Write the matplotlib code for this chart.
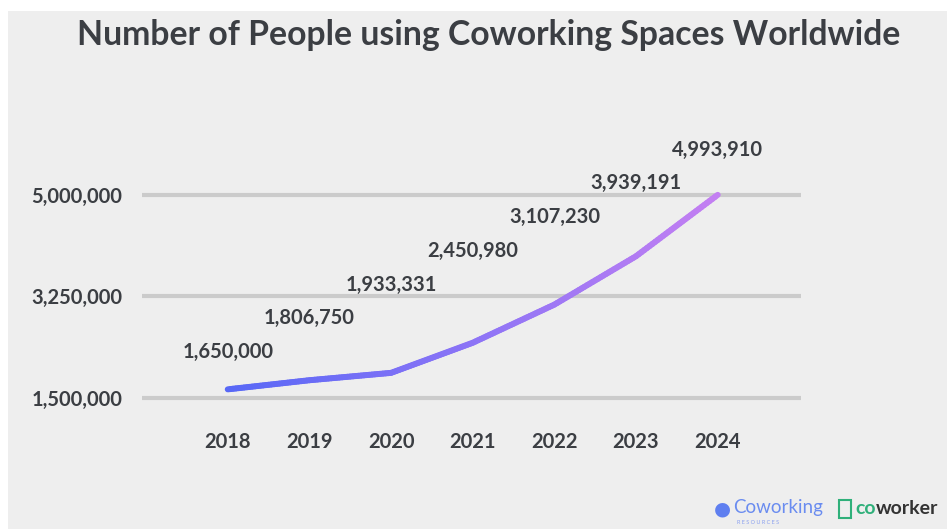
import numpy as np
import matplotlib.pyplot as plt
from matplotlib.collections import LineCollection
from matplotlib.colors import LinearSegmentedColormap
from matplotlib.patches import Rectangle
import matplotlib.transforms as mtransforms

plt.rcParams['font.family'] = ['Lato', 'DejaVu Sans']

years = [2018, 2019, 2020, 2021, 2022, 2023, 2024]
people = [1650000, 1806750, 1933331, 2450980, 3107230, 3939191, 4993910]
y_ticks = [1500000, 3250000, 5000000]
title = 'Number of People using Coworking Spaces Worldwide'

bg = '#eeeeee'
text_col = '#3b3e43'

fig = plt.figure(figsize=(9.47, 5.29), dpi=100, facecolor='white')
# grey card with a thin white border on top and left
fig.patches.append(Rectangle((8 / 947, 0), 1, 1 - 11 / 529, transform=fig.transFigure,
                             facecolor=bg, edgecolor='none', zorder=-5))

ax = fig.add_axes([142 / 947, 1 - 420 / 529, 659 / 947, 300 / 529])
ax.set_facecolor('none')
ax.set_xlim(2016.95, 2025.02)
ax.set_ylim(1123000, 6281000)

for t in y_ticks:
    ax.axhline(t, color='#cbcbcb', lw=3.0, solid_capstyle='round', zorder=1)

# colour the line from blue to violet along its length
cmap = LinearSegmentedColormap.from_list('line', ['#5868f6', '#8c74f6', '#c37ff2'])
xs, ys = [], []
for i in range(len(years) - 1):
    t = np.linspace(0, 1, 30, endpoint=False)
    xs.extend(years[i] + (years[i + 1] - years[i]) * t)
    ys.extend(people[i] + (people[i + 1] - people[i]) * t)
xs.append(years[-1])
ys.append(people[-1])
pts = np.column_stack([xs, ys]).reshape(-1, 1, 2)
segs = np.concatenate([pts[:-1], pts[1:]], axis=1)
lc = LineCollection(segs, cmap=cmap, linewidths=4.3, capstyle='round', joinstyle='round', zorder=3)
lc.set_array(np.linspace(0, 1, len(segs)))
ax.add_collection(lc)

# value labels climb in even steps above the line
lbl_trans = mtransforms.blended_transform_factory(ax.transData, ax.transAxes)
for i, (yr, v) in enumerate(zip(years, people)):
    ax.text(yr, 0.227 + 0.1123 * i, f'{v:,}', transform=lbl_trans, ha='center', va='center',
            fontsize=14.5, fontweight='bold', color=text_col, zorder=4)

ax.set_xticks(years)
ax.set_xticklabels([str(y) for y in years])
ax.set_yticks(y_ticks)
ax.set_yticklabels([f'{t:,}' for t in y_ticks])
ax.tick_params(length=0, labelsize=14.5, labelcolor=text_col)
ax.tick_params(axis='x', pad=9)
ax.tick_params(axis='y', pad=14)
for lab in ax.get_xticklabels() + ax.get_yticklabels():
    lab.set_fontweight('bold')
for s in ax.spines.values():
    s.set_visible(False)

fig.text(489 / 947, 1 - 35 / 529, title, ha='center', va='center',
         fontsize=24.3, fontweight='bold', color=text_col)

# footer logos
fig.text(722 / 947, 1 - 509 / 529, '\u25CF', ha='center', va='center',
         fontsize=14, color='#5f7ff0', family='DejaVu Sans')
fig.text(733 / 947, 1 - 508 / 529, 'Coworking', ha='left', va='center',
         fontsize=13.5, color='#6a8cf0')
fig.text(737 / 947, 1 - 522 / 529, 'R E S O U R C E S', ha='left', va='center',
         fontsize=4, color='#8aa0f0')
fig.patches.append(Rectangle((839 / 947, 1 - 518 / 529), 12 / 947, 18 / 529,
                             transform=fig.transFigure, facecolor='none',
                             edgecolor='#2fb07a', lw=1.5))
co = fig.text(855 / 947, 1 - 508 / 529, 'co', ha='left', va='center',
              fontsize=14, fontweight='bold', color='#2fb07a')
ax.annotate('worker', xy=(1, 0.5), xycoords=co, xytext=(0, 0), textcoords='offset points',
            ha='left', va='center', fontsize=14, fontweight='bold', color='#333333',
            annotation_clip=False)

fig.savefig('out.png', dpi=100, facecolor=fig.get_facecolor())
